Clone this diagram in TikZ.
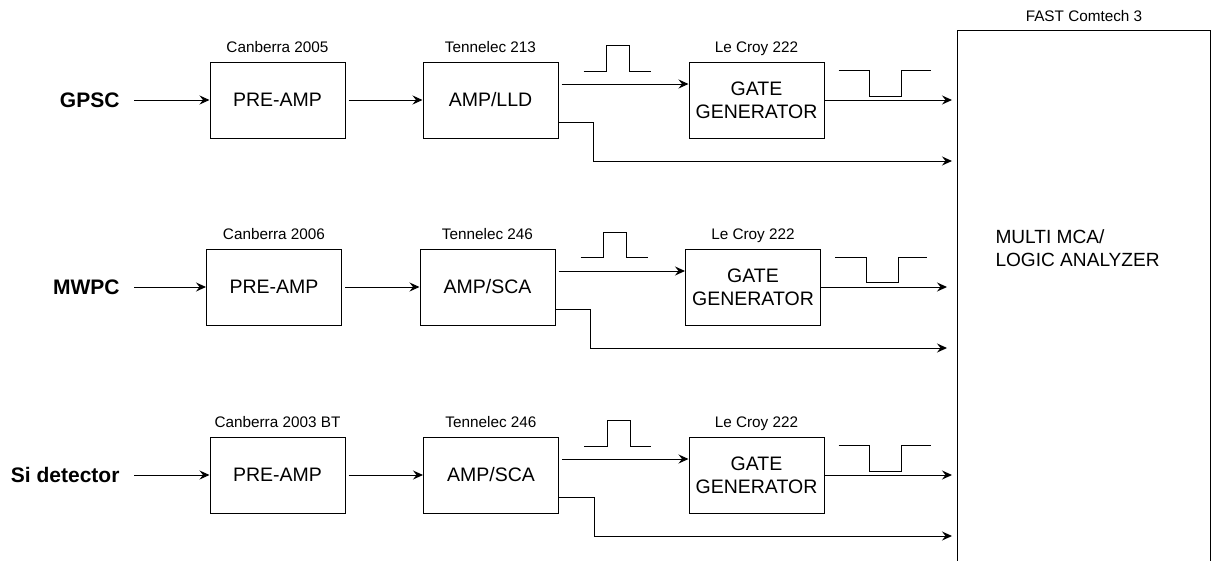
\documentclass[tikz,border=0pt]{standalone}
\usepackage{fontspec}
\setmainfont{Liberation Sans}
\usetikzlibrary{arrows.meta}

\begin{document}
\begin{tikzpicture}[x=1pt, y=-1pt, line width=1pt, >={Stealth[length=10pt, width=9pt, inset=3.5pt]},
		block/.style={shape=rectangle, draw, minimum width=135pt, minimum height=76pt, inner sep=0pt, align=center, font=\fontsize{19.5}{23}\selectfont},
		model/.style={inner sep=0pt, text height=11pt, text depth=0pt, label distance=8.5pt, font=\fontsize{15.3}{18}\selectfont},
		source/.style={inner sep=0pt, anchor=east, text height=15pt, text depth=0pt, font=\fontsize{21}{25}\selectfont\bfseries},
		pulse/.style={line width=1pt}]
	\useasboundingbox (0,0) rectangle (1211,560);

	\node[shape=rectangle, draw, minimum width=253pt, minimum height=545pt, anchor=north west, inner sep=0pt, label={[model]above:FAST Comtech 3}] (mca) at (957,30){};
	\node[anchor=north west, inner sep=0pt, align=left, font=\fontsize{19.1}{23}\selectfont] (mcatext) at (995,229){MULTI MCA/\\LOGIC ANALYZER};

	% GPSC
	\node[source] (gpsc) at (120,100){GPSC};
	\node[block, label={[model]above:Canberra 2005}] (pre1) at (277.5,100){PRE-AMP};
	\node[block, label={[model]above:Tennelec 213}] (amp1) at (490.5,100){AMP/LLD};
	\node[block, label={[model]above:Le Croy 222}] (gate1) at (756.5,100){GATE\\GENERATOR};
	\coordinate (tap1) at ([shift={(35,61)}]amp1.east);

	% MWPC
	\node[source] (mwpc) at (120,287){MWPC};
	\node[block, label={[model]above:Canberra 2006}] (pre2) at (274,287){PRE-AMP};
	\node[block, label={[model]above:Tennelec 246}] (amp2) at (487.5,287){AMP/SCA};
	\node[block, label={[model]above:Le Croy 222}] (gate2) at (753,287){GATE\\GENERATOR};
	\coordinate (tap2) at ([shift={(35,61)}]amp2.east);

	% Si detector
	\node[source] (si) at (120,475){Si detector};
	\node[block, label={[model]above:Canberra 2003 BT}] (pre3) at (277.5,475){PRE-AMP};
	\node[block, label={[model]above:Tennelec 246}] (amp3) at (491,475){AMP/SCA};
	\node[block, label={[model]above:Le Croy 222}] (gate3) at (756.5,475){GATE\\GENERATOR};
	\coordinate (tap3) at ([shift={(35,61)}]amp3.east);

	\draw[->, shorten <=14pt] (gpsc.east) to (pre1.west);
	\draw[->, shorten <=3pt] (pre1) to (amp1);
	\draw[->, shorten <=3pt] ([yshift=16pt]amp1.east) to ([yshift=16pt]gate1.west);
	\draw[->, shorten >=5pt] (gate1.east) to (gate1.east -| mca.west);
	\draw[->, shorten >=5pt] ([yshift=-22pt]amp1.east) -| (tap1) to (tap1 -| mca.west);

	\draw[->, shorten <=14pt] (mwpc.east) to (pre2.west);
	\draw[->, shorten <=3pt] (pre2) to (amp2);
	\draw[->, shorten <=3pt] ([yshift=16pt]amp2.east) to ([yshift=16pt]gate2.west);
	\draw[->, shorten >=10pt] (gate2.east) to (gate2.east -| mca.west);
	\draw[->, shorten >=10pt] ([yshift=-22pt]amp2.east) -| (tap2) to (tap2 -| mca.west);

	\draw[->, shorten <=14pt] (si.east) to (pre3.west);
	\draw[->, shorten <=3pt] (pre3) to (amp3);
	\draw[->, shorten <=3pt] ([yshift=16pt]amp3.east) to ([yshift=16pt]gate3.west);
	\draw[->, shorten >=5pt] (gate3.east) to (gate3.east -| mca.west);
	\draw[->, shorten >=5pt] ([yshift=-22pt]amp3.east) -| (tap3) to (tap3 -| mca.west);

	\draw[pulse] ([shift={(25,-29)}]amp1.east) -- ++(23,0) -- ++(0,-26) -- ++(23,0) -- ++(0,26) -- ++(21,0);
	\draw[pulse] ([shift={(25,-30)}]amp2.east) -- ++(23,0) -- ++(0,-25) -- ++(23,0) -- ++(0,25) -- ++(21,0);
	\draw[pulse] ([shift={(25,-29)}]amp3.east) -- ++(23,0) -- ++(0,-26) -- ++(23,0) -- ++(0,26) -- ++(21,0);

	\draw[pulse] ([shift={(14,-30)}]gate1.east) -- ++(31,0) -- ++(0,26) -- ++(32,0) -- ++(0,-26) -- ++(29,0);
	\draw[pulse] ([shift={(14,-30)}]gate2.east) -- ++(31,0) -- ++(0,25) -- ++(32,0) -- ++(0,-25) -- ++(29,0);
	\draw[pulse] ([shift={(14,-30)}]gate3.east) -- ++(31,0) -- ++(0,26) -- ++(32,0) -- ++(0,-26) -- ++(29,0);
\end{tikzpicture}
\end{document}
